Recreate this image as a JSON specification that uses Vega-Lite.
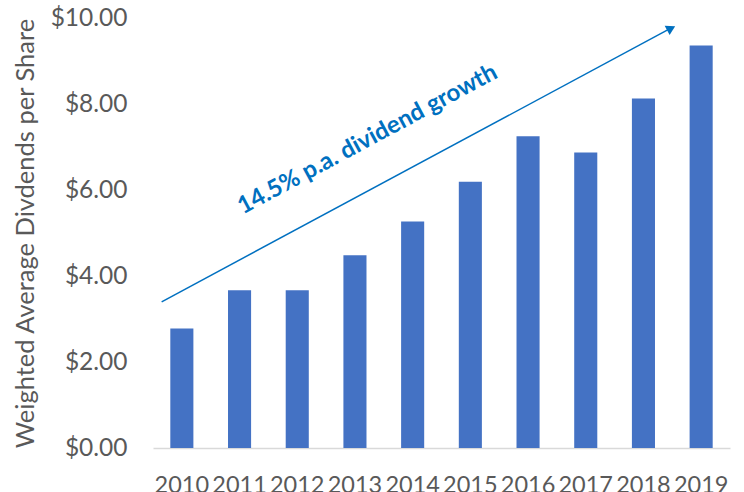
{
  "$schema": "https://vega.github.io/schema/vega-lite/v6.json",
  "width": 577,
  "height": 430,
  "autosize": "none",
  "padding": {"left": 153, "top": 18, "right": 14, "bottom": 44},
  "config": {
    "view": {"stroke": null},
    "font": "Lato",
    "axis": {"grid": false}
  },
  "layer": [
    {
      "data": {
        "values": [
          {"year": "2010", "dividend": 2.78},
          {"year": "2011", "dividend": 3.67},
          {"year": "2012", "dividend": 3.67},
          {"year": "2013", "dividend": 4.48},
          {"year": "2014", "dividend": 5.27},
          {"year": "2015", "dividend": 6.19},
          {"year": "2016", "dividend": 7.25},
          {"year": "2017", "dividend": 6.87},
          {"year": "2018", "dividend": 8.13},
          {"year": "2019", "dividend": 9.36}
        ]
      },
      "mark": {"type": "bar", "color": "#4472C4"},
      "encoding": {
        "x": {
          "field": "year",
          "type": "nominal",
          "scale": {"paddingInner": 0.6, "paddingOuter": 0.3},
          "axis": {
            "title": null,
            "labelAngle": 0,
            "labelFontSize": 23.5,
            "labelColor": "#595959",
            "labelOverlap": false,
            "ticks": false,
            "labelPadding": 25,
            "domainColor": "#D9D9D9",
            "domainWidth": 1.5
          }
        },
        "y": {
          "field": "dividend",
          "type": "quantitative",
          "scale": {"domain": [0, 10], "nice": false},
          "axis": {
            "title": "Weighted Average Divdends per Share",
            "format": "$.2f",
            "values": [0, 2, 4, 6, 8, 10],
            "domain": false,
            "ticks": false,
            "labelPadding": 26,
            "labelFontSize": 24.5,
            "labelColor": "#595959",
            "titleFontSize": 25.5,
            "titleFontWeight": "normal",
            "titleColor": "#595959",
            "titlePadding": 12
          }
        }
      }
    },
    {
      "data": {"values": [{"x": 2009.65, "dividend": 3.40, "x2": 2018.5, "dividend2": 9.78}]},
      "mark": {"type": "rule", "color": "#0070C0", "strokeWidth": 1.5},
      "encoding": {
        "x": {"field": "x", "type": "quantitative", "scale": {"domain": [2009.5, 2019.5], "nice": false, "zero": false}, "axis": null},
        "x2": {"field": "x2"},
        "y": {"field": "dividend", "type": "quantitative"},
        "y2": {"field": "dividend2"}
      }
    },
    {
      "data": {"values": [{"x": 2018.48, "dividend": 9.76}]},
      "mark": {"type": "point", "shape": "triangle-right", "filled": true, "opacity": 1, "angle": -28.25, "size": 110, "color": "#0070C0"},
      "encoding": {
        "x": {"field": "x", "type": "quantitative", "scale": {"domain": [2009.5, 2019.5], "nice": false, "zero": false}, "axis": null},
        "y": {"field": "dividend", "type": "quantitative"}
      }
    },
    {
      "data": {"values": [{"x": 2013.22, "dividend": 7.17, "label": "14.5% p.a. dividend growth"}]},
      "mark": {"type": "text", "align": "center", "baseline": "middle", "angle": -28.25, "fontSize": 24, "fontWeight": "bold", "color": "#0070C0"},
      "encoding": {
        "x": {"field": "x", "type": "quantitative", "scale": {"domain": [2009.5, 2019.5], "nice": false, "zero": false}, "axis": null},
        "y": {"field": "dividend", "type": "quantitative"},
        "text": {"field": "label"}
      }
    }
  ],
  "resolve": {"scale": {"x": "independent"}}
}
